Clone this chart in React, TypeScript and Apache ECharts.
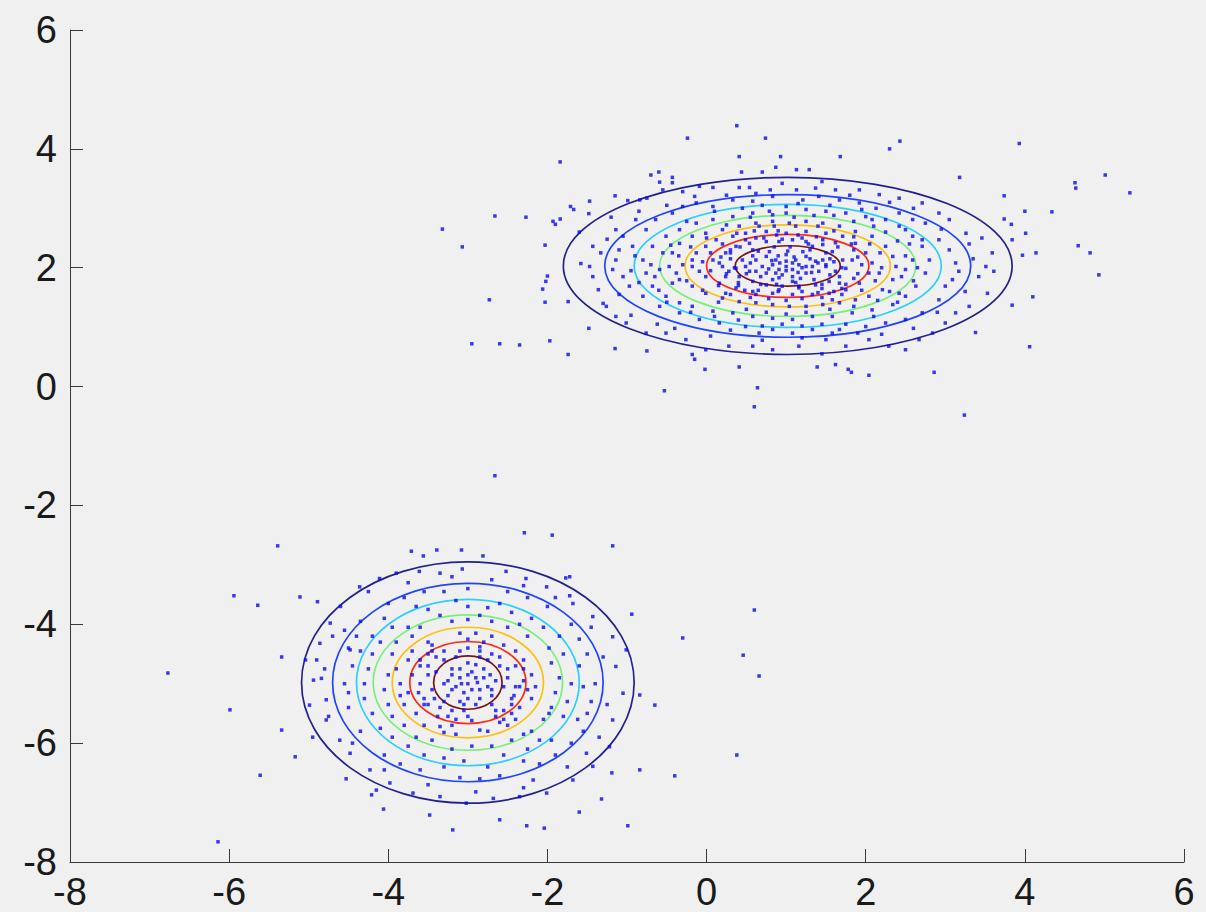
import React, { useEffect, useRef } from "react";
import * as echarts from "echarts";

// Axis ticks
const xTicks = [-8, -6, -4, -2, 0, 2, 4, 6];
const yTicks = [-8, -6, -4, -2, 0, 2, 4, 6];

// Contour level colours (outermost to innermost, jet colormap)
const levelColors = ["#22228e", "#1f45ff", "#2ccfff", "#78f078", "#ffc010", "#ff2c14", "#7a1414"];

// Upper cluster: centre and contour semi-axes per level
const upperCenter = [1.02, 2.03];
const upperRx = [2.82, 2.3, 1.93, 1.61, 1.29, 1.02, 0.66];
const upperRy = [1.49, 1.2, 1.035, 0.85, 0.69, 0.53, 0.34];

// Lower cluster: centre and contour semi-axes per level
const lowerCenter = [-3.0, -4.98];
const lowerRx = [2.09, 1.7, 1.4, 1.19, 0.95, 0.73, 0.43];
const lowerRy = [2.03, 1.67, 1.4, 1.14, 0.93, 0.69, 0.45];

// Sample points of the upper cluster
const upperPoints: number[][] = [
  [0.38, 4.39], [-0.24, 4.18], [0.74, 4.18], [2.43, 4.13], [2.3, 4.0], [3.93, 4.09], [0.41, 3.87],
  [0.93, 3.87], [1.68, 3.87], [-1.84, 3.78], [0.87, 3.69], [0.44, 3.61], [0.7, 3.61], [1.13, 3.65],
  [1.29, 3.65], [3.18, 3.52], [-0.7, 3.56], [-0.6, 3.61], [-0.43, 3.52], [-0.59, 3.44], [-0.43, 3.43],
  [-1.15, 3.21], [-1.47, 3.12], [-1.71, 3.03], [-1.67, 2.98], [-1.48, 2.91], [-1.93, 2.78], [-1.9, 2.73],
  [-1.84, 2.82], [-2.03, 2.38], [-2.0, 1.86], [-2.02, 1.77], [-2.06, 1.64], [-2.03, 1.42], [-1.74, 1.43],
  [-1.48, 0.98], [-1.97, 0.77], [-1.74, 0.54], [-1.15, 0.64], [-0.75, 0.6], [-0.18, 0.54], [-0.15, 0.46],
  [-0.02, 0.29], [0.41, 0.33], [0.64, -0.02], [-0.53, -0.07], [1.39, 0.33], [1.62, 0.37], [1.78, 0.29],
  [1.82, 0.24], [2.04, 0.19], [2.86, 0.24], [4.06, 0.67], [3.38, 0.91], [3.84, 1.37], [4.1, 1.51],
  [3.61, 1.94], [3.97, 2.21], [4.14, 2.25], [3.84, 2.47], [4.01, 2.58], [3.74, 2.82], [3.83, 2.73],
  [4.0, 2.95], [3.74, 3.21], [-3.32, 2.65], [-3.07, 2.35], [-2.73, 1.46], [-2.95, 0.72], [-2.6, 0.72],
  [-2.35, 0.7], [-2.66, 2.87], [-2.27, 2.85], [4.63, 3.43], [4.64, 3.34], [5.01, 3.56], [5.32, 3.26],
  [4.34, 2.94], [4.67, 2.37], [4.82, 2.25], [4.93, 1.88], [3.24, -0.48], [0.6, -0.34],
  // between the two outer contours
  [-1.43, 2.36], [-1.33, 2.25], [-1.58, 2.07], [-1.36, 1.63], [-1.43, 1.85], [-1.14, 2.64], [-0.89, 2.81],
  [-0.84, 3.14], [-0.99, 3.13], [-0.75, 3.17], [-0.55, 3.31], [-0.3, 3.28], [-0.09, 3.37], [0.08, 3.35],
  [0.41, 3.35], [0.54, 3.35], [0.8, 3.31], [1.13, 3.31], [1.37, 3.34], [1.62, 3.31], [1.92, 3.31],
  [2.17, 3.23], [2.42, 3.17], [2.71, 3.09], [2.92, 2.92], [3.05, 2.81], [3.26, 2.58], [3.46, 2.5],
  [3.59, 2.25], [3.51, 2.02], [3.42, 1.85], [3.53, 1.57], [3.3, 1.35], [3.13, 1.24], [3.0, 1.07],
  [2.84, 0.9], [2.67, 0.79], [2.5, 0.62], [2.29, 0.68], [2.04, 0.79], [1.75, 0.68], [1.5, 0.79],
  [1.16, 0.68], [0.83, 0.62], [0.58, 0.68], [0.28, 0.68], [-0.01, 0.62], [-0.26, 0.79], [-0.51, 0.9],
  [-0.76, 0.9], [-1.01, 1.07], [-1.14, 1.18], [-1.26, 1.35], [-1.1, 1.55], [-1.18, 1.97], [-1.47, 2.02],
  [-1.05, 2.53], [-0.93, 2.36], [-0.76, 2.64], [-0.64, 2.81], [-0.43, 2.92], [-0.3, 3.03], [-0.13, 3.09],
  [0.08, 3.03], [0.33, 3.14], [0.58, 3.12], [0.83, 3.2], [1.0, 3.03], [1.21, 3.14], [1.41, 3.2],
  [1.67, 3.14], [1.92, 3.09], [2.13, 3.0], [2.42, 2.92], [2.59, 2.81], [2.75, 2.75], [2.92, 2.47],
  [3.05, 2.3], [3.13, 2.08], [3.09, 1.8], [3.0, 1.69], [2.92, 1.46], [2.71, 1.24], [2.5, 1.13],
  [2.25, 1.07], [2.0, 1.01], [1.67, 0.96], [1.33, 0.96], [1.08, 0.9], [0.83, 0.96], [0.49, 1.01],
  [0.16, 1.07], [-0.09, 1.13], [-0.34, 1.24], [-0.59, 1.35], [-0.8, 1.52], [-0.97, 1.69], [-1.05, 1.85],
  [-1.14, 2.13], [-1.1, 2.3], [2.71, 2.47], [2.5, 2.64], [3.17, 1.94], [1.58, 0.9], [0.66, 0.9],
  [-1.25, 2.48], [-1.6, 2.6], [-1.3, 1.4], [-0.95, 1.2], [-0.62, 1.05], [-0.4, 0.98], [0.05, 0.85],
  [0.3, 0.95], [0.7, 0.78], [1.2, 0.82], [1.45, 0.55], [1.9, 0.9], [2.2, 0.88], [2.6, 0.98],
  [2.9, 1.25], [3.25, 1.6], [3.35, 2.15], [3.3, 2.4], [2.95, 2.65], [2.6, 3.0], [2.3, 3.1],
  [1.8, 3.22], [1.45, 3.45], [0.95, 3.42], [0.62, 3.25], [0.25, 3.22], [-0.15, 3.2], [-0.5, 3.05],
  [-0.85, 2.95], [-1.2, 2.85],
  // middle rings
  [-0.8, 2.13], [-0.76, 1.91], [-0.68, 1.69], [-0.51, 1.52], [-0.34, 1.41], [-0.18, 1.35], [0.08, 1.27],
  [0.33, 1.24], [0.58, 1.18], [0.83, 1.15], [1.08, 1.13], [1.33, 1.18], [1.58, 1.18], [1.83, 1.24],
  [2.08, 1.29], [2.34, 1.38], [2.5, 1.52], [2.63, 1.69], [2.75, 1.91], [2.8, 2.13], [2.71, 2.36],
  [2.59, 2.53], [2.42, 2.7], [2.25, 2.81], [2.0, 2.86], [1.75, 2.92], [1.5, 2.95], [1.25, 2.98],
  [1.0, 2.92], [0.79, 2.95], [0.58, 2.92], [0.33, 2.86], [0.08, 2.81], [-0.13, 2.75], [-0.34, 2.64],
  [-0.51, 2.53], [-0.68, 2.36], [-0.59, 1.97], [-0.43, 1.74], [2.42, 1.57], [2.59, 2.13], [0.83, 2.89],
  [2.08, 2.81], [-0.47, 2.02], [-0.43, 2.25], [-0.34, 2.41], [-0.18, 2.53], [-0.01, 2.58], [0.2, 2.64],
  [0.41, 2.7], [0.62, 2.75], [0.83, 2.78], [1.04, 2.75], [1.25, 2.78], [1.46, 2.75], [1.67, 2.7],
  [1.87, 2.61], [2.08, 2.53], [2.25, 2.36], [2.34, 2.19], [2.38, 2.02], [2.34, 1.8], [2.21, 1.63],
  [2.04, 1.52], [1.87, 1.46], [1.67, 1.41], [1.46, 1.38], [1.25, 1.35], [1.04, 1.35], [0.83, 1.38],
  [0.62, 1.41], [0.41, 1.43], [0.2, 1.49], [-0.01, 1.57], [-0.18, 1.69], [-0.34, 1.8], [-0.38, 1.91],
  [2.5, 1.97], [-0.18, 2.13], [2.17, 1.91], [0.24, 1.57], [1.58, 1.46], [0.66, 2.7],
  [-0.9, 2.2], [-0.95, 1.95], [-0.85, 1.75], [-0.6, 1.62], [-0.45, 2.38], [-0.25, 2.78], [0.1, 2.95],
  [0.45, 3.0], [0.7, 3.05], [1.15, 3.08], [1.55, 3.05], [1.95, 2.98], [2.25, 2.6], [2.55, 2.4],
  [2.65, 2.0], [2.6, 1.78], [2.4, 1.42], [2.1, 1.18], [1.75, 1.05], [1.45, 1.05], [1.2, 1.02],
  [0.95, 1.05], [0.7, 1.02], [0.4, 1.12], [0.1, 1.18], [-0.2, 1.25], [-0.5, 1.42], [-0.65, 1.85],
  [-0.7, 2.05], [-0.55, 2.25], [-0.3, 2.05], [-0.25, 1.78], [-0.05, 1.62], [0.15, 1.42], [0.5, 1.3],
  [0.75, 1.25], [1.0, 1.22], [1.25, 1.25], [1.55, 1.3], [1.85, 1.35], [2.15, 1.45], [2.3, 1.6],
  [2.45, 1.85], [2.5, 2.2], [2.4, 2.45], [2.1, 2.7], [1.85, 2.78], [1.6, 2.88], [1.35, 2.88],
  [1.1, 2.85], [0.9, 2.62], [0.55, 2.85], [0.25, 2.72], [0.0, 2.5], [-0.2, 2.35], [-0.35, 2.2],
  // inner rings
  [-0.18, 2.02], [-0.13, 2.25], [-0.01, 2.36], [0.12, 2.47], [0.33, 2.53], [0.49, 2.58], [0.75, 2.61],
  [1.0, 2.58], [1.25, 2.61], [1.5, 2.58], [1.71, 2.53], [1.87, 2.41], [2.0, 2.25], [2.08, 2.08],
  [2.04, 1.91], [1.92, 1.74], [1.75, 1.63], [1.54, 1.57], [1.33, 1.55], [1.08, 1.55], [0.83, 1.57],
  [0.58, 1.6], [0.37, 1.66], [0.16, 1.74], [-0.01, 1.85], [-0.09, 1.94], [0.08, 2.13], [1.83, 2.13],
  [0.24, 1.85], [1.67, 1.74], [0.49, 2.47], [1.46, 2.47], [0.91, 1.63], [1.16, 1.66],
  [0.16, 2.08], [0.24, 2.25], [0.37, 2.36], [0.54, 2.41], [0.75, 2.44], [0.91, 2.44], [1.08, 2.47],
  [1.25, 2.44], [1.46, 2.39], [1.58, 2.27], [1.71, 2.13], [1.75, 1.99], [1.67, 1.85], [1.54, 1.77],
  [1.37, 1.71], [1.16, 1.69], [0.95, 1.69], [0.75, 1.71], [0.58, 1.77], [0.41, 1.85], [0.28, 1.94],
  [0.2, 2.02], [0.45, 2.13], [1.5, 2.02], [0.58, 2.3], [1.33, 2.36], [0.83, 1.8], [1.08, 1.77],
  [0.37, 1.99], [1.62, 1.94],
  [0.05, 1.95], [0.15, 1.7], [0.3, 1.55], [0.55, 1.5], [0.78, 1.48], [1.0, 1.45], [1.2, 1.48],
  [1.45, 1.5], [1.7, 1.55], [1.95, 1.62], [2.12, 1.78], [2.2, 2.0], [2.18, 2.25], [2.05, 2.4],
  [1.85, 2.52], [1.6, 2.62], [1.4, 2.7], [1.12, 2.7], [0.85, 2.7], [0.6, 2.62], [0.38, 2.58],
  [0.2, 2.4], [0.05, 2.25], [-0.05, 2.1], [0.3, 2.15], [0.4, 1.75], [0.65, 1.62], [0.9, 1.6],
  [1.2, 1.6], [1.45, 1.65], [1.75, 1.72], [1.9, 1.9], [1.95, 2.05], [1.85, 2.3], [1.62, 2.42],
  [1.38, 2.52], [1.15, 2.55], [0.88, 2.55], [0.62, 2.5], [0.42, 2.35], [0.3, 2.25],
  [0.3, 2.3], [0.4, 1.7], [0.62, 1.55], [1.4, 1.58], [1.7, 1.65], [1.82, 2.4], [1.2, 2.5],
  [0.72, 2.5], [0.25, 1.9], [1.9, 2.18], [0.58, 2.2], [1.45, 1.72], [0.48, 1.62], [1.65, 2.35],
  [0.18, 2.18], [1.85, 1.82], [0.68, 1.72], [1.28, 2.4], [0.95, 2.48], [1.6, 1.6],
  // core
  [0.49, 2.02], [0.62, 2.13], [0.75, 2.19], [0.87, 2.13], [1.0, 2.22], [1.12, 2.13], [1.25, 2.19],
  [1.37, 2.11], [1.5, 2.05], [1.41, 1.94], [1.25, 1.91], [1.08, 1.97], [0.91, 1.97], [0.75, 1.91],
  [0.62, 1.94], [0.83, 2.05], [1.0, 2.02], [1.16, 2.05], [1.33, 2.02], [0.91, 1.83], [1.08, 1.85],
  [0.79, 2.27], [1.21, 2.27], [0.7, 2.02], [1.46, 2.13], [0.54, 1.94], [1.0, 2.11], [0.87, 1.91],
  [1.08, 2.08], [1.25, 2.02],
  [0.55, 2.08], [0.68, 1.85], [0.88, 1.72], [1.12, 1.75], [1.35, 1.8], [1.55, 1.88], [1.6, 2.1],
  [1.5, 2.25], [1.3, 2.3], [1.05, 2.35], [0.85, 2.35], [0.65, 2.28], [0.92, 2.08], [1.15, 1.92],
  [1.3, 2.15], [0.78, 1.98], [1.02, 2.28], [1.2, 2.0], [0.95, 1.88], [1.4, 2.08], [0.35, 2.0],
  [1.7, 2.0], [0.5, 1.9], [1.55, 2.15], [0.9, 2.2], [1.1, 2.18], [0.82, 2.12], [1.18, 1.82],
  [1.0, 1.95], [1.32, 1.92],
];

// Sample points of the lower cluster
const lowerPoints: number[][] = [
  [-6.14, -7.66], [-6.77, -4.82], [-5.94, -3.52], [-5.99, -5.44], [-5.61, -6.54], [-5.39, -2.68],
  [-5.64, -3.68], [-2.66, -1.5], [-2.29, -2.46], [-1.94, -2.5], [-1.18, -2.68], [-0.3, -4.23],
  [0.6, -3.76], [0.46, -4.52], [0.66, -4.87], [-0.4, -6.55], [-0.99, -7.39], [-1.19, -6.5],
  [-2.04, -7.43], [-2.26, -7.39], [-2.6, -7.29], [-3.48, -7.21], [-3.19, -7.46], [0.38, -6.2],
  [-5.04, -4.6], [-5.34, -4.55], [-3.71, -2.77], [-3.56, -2.85], [-3.39, -2.75], [-3.08, -2.75],
  [-5.11, -3.54], [-4.89, -3.62], [-1.77, -3.22], [-1.72, -3.52], [-0.94, -3.83], [-0.84, -5.19],
  [-0.65, -5.36], [-0.84, -6.45], [-5.34, -5.78], [-5.17, -6.23], [-4.95, -5.9], [-4.53, -6.6],
  [-4.21, -6.87], [-4.06, -7.11], [-1.32, -6.94], [-1.6, -7.16], [-2.81, -2.85],
  // between the two outer contours
  [-4.99, -5.36], [-4.94, -4.94], [-4.84, -4.91], [-4.78, -5.61], [-4.55, -4.1], [-4.48, -4.43],
  [-4.86, -4.32], [-4.36, -3.37], [-4.11, -3.23], [-3.9, -3.14], [-3.61, -3.11], [-3.35, -3.14],
  [-3.07, -3.07], [-2.52, -3.11], [-2.27, -3.23], [-2.01, -3.37], [-1.72, -3.2], [-1.68, -3.65],
  [-1.43, -3.87], [-1.18, -4.21], [-1.14, -4.71], [-1.05, -5.16], [-1.18, -5.61], [-1.22, -6.06],
  [-1.43, -6.39], [-1.68, -6.62], [-2.01, -6.84], [-2.35, -6.9], [-2.68, -6.93], [-3.02, -7.01],
  [-3.35, -6.9], [-3.69, -6.84], [-3.98, -6.67], [-4.23, -6.45], [-4.48, -6.17], [-4.61, -5.95],
  [-4.78, -5.27], [-4.9, -4.6], [-4.73, -3.98], [-4.15, -6.79], [-2.18, -6.62], [-1.51, -6.17],
  [-1.01, -4.43],
  [-4.7, -4.2], [-4.6, -3.7], [-4.25, -3.45], [-3.75, -3.3], [-3.2, -3.2], [-2.7, -3.25],
  [-2.3, -3.35], [-1.9, -3.55], [-1.45, -4.05], [-1.3, -4.55], [-1.25, -5.35], [-1.35, -5.9],
  [-1.75, -6.4], [-2.3, -6.75], [-2.9, -6.82], [-3.5, -6.7], [-4.05, -6.45], [-4.45, -6.0],
  [-4.75, -5.55], [-4.8, -4.75],
  [-4.55, -5.0], [-4.5, -4.4], [-4.35, -3.95], [-4.0, -3.65], [-3.55, -3.45], [-3.0, -3.4],
  [-2.5, -3.45], [-2.0, -3.7], [-1.7, -4.0], [-1.5, -4.5], [-1.4, -5.0], [-1.5, -5.5], [-1.7, -6.0],
  [-2.1, -6.35], [-2.6, -6.55], [-3.1, -6.58], [-3.6, -6.45], [-4.05, -6.2], [-4.35, -5.8],
  [-4.5, -5.4], [-4.45, -4.7], [-4.2, -4.2], [-3.3, -3.45], [-2.25, -3.55], [-1.6, -4.25],
  [-1.45, -5.3], [-1.9, -6.2], [-2.85, -6.6], [-3.85, -6.35], [-4.5, -5.15], [-3.8, -3.55],
  [-1.55, -5.8],
  // middle rings
  [-4.3, -5.0], [-4.2, -4.5], [-3.95, -4.05], [-3.5, -3.75], [-3.0, -3.7], [-2.45, -3.8],
  [-2.05, -4.05], [-1.8, -4.5], [-1.7, -5.0], [-1.8, -5.55], [-2.1, -5.95], [-2.55, -6.2],
  [-3.05, -6.3], [-3.55, -6.2], [-3.95, -5.9], [-4.2, -5.5], [-4.25, -4.75], [-2.75, -3.72],
  [-1.75, -5.3], [-3.3, -6.25], [-4.1, -4.3], [-2.25, -6.1],
  [-4.35, -4.45], [-4.3, -5.25], [-4.1, -5.75], [-3.75, -6.05], [-3.3, -6.4], [-2.75, -6.4],
  [-2.3, -6.3], [-1.95, -5.95], [-1.62, -5.6], [-1.55, -5.05], [-1.6, -4.7], [-1.85, -4.2],
  [-2.2, -3.9], [-2.6, -3.65], [-3.15, -3.6], [-3.65, -3.7], [-4.05, -3.9], [-4.4, -4.2],
  [-4.05, -5.1], [-3.95, -4.5], [-3.7, -4.2], [-3.2, -3.95], [-2.7, -3.95], [-2.25, -4.2],
  [-1.95, -4.65], [-1.9, -5.15], [-2.05, -5.6], [-2.45, -5.95], [-2.95, -6.05], [-3.45, -5.95],
  [-3.8, -5.7], [-4.0, -5.35], [-3.0, -3.92], [-1.95, -5.4], [-3.9, -4.75], [-2.2, -5.8],
  [-3.6, -4.05], [-2.5, -4.05],
  [-4.0, -4.85], [-3.95, -5.55], [-3.65, -5.9], [-3.2, -6.1], [-2.7, -6.05], [-2.3, -5.85],
  [-1.98, -5.5], [-1.85, -4.9], [-1.98, -4.4], [-2.35, -4.0], [-2.85, -3.85], [-3.35, -3.85],
  [-3.75, -4.05], [-3.9, -4.3],
  // inner rings
  [-3.85, -5.0], [-3.75, -4.6], [-3.5, -4.3], [-3.1, -4.15], [-2.7, -4.2], [-2.4, -4.45],
  [-2.2, -4.85], [-2.2, -5.25], [-2.4, -5.6], [-2.75, -5.8], [-3.15, -5.85], [-3.55, -5.7],
  [-3.8, -5.35], [-2.9, -4.15], [-2.15, -5.05], [-3.3, -5.82], [-3.7, -4.45], [-2.5, -5.7],
  [-3.85, -5.2], [-2.3, -4.6],
  [-3.7, -4.85], [-3.65, -5.5], [-3.35, -5.72], [-2.85, -5.78], [-2.45, -5.5], [-2.25, -5.1],
  [-2.3, -4.75], [-2.55, -4.35], [-3.0, -4.25], [-3.45, -4.35], [-3.6, -4.6],
  [-3.6, -5.0], [-3.5, -4.7], [-3.3, -4.45], [-3.0, -4.4], [-2.7, -4.5], [-2.5, -4.75],
  [-2.4, -5.05], [-2.45, -5.35], [-2.65, -5.55], [-2.95, -5.62], [-3.25, -5.55], [-3.5, -5.35],
  [-3.62, -5.15], [-2.85, -4.38], [-2.42, -5.2], [-3.15, -5.6], [-3.4, -4.55], [-2.55, -5.45],
  [-3.55, -5.25], [-2.3, -4.95], [-2.35, -5.4], [-3.5, -4.5], [-2.8, -4.3], [-3.2, -5.7],
  [-2.6, -5.65], [-3.75, -5.15],
  [-3.5, -4.85], [-3.42, -5.25], [-3.3, -4.6], [-2.6, -4.55], [-2.5, -4.9], [-2.45, -5.25],
  [-2.65, -5.45], [-3.2, -5.45], [-3.45, -4.45], [-2.85, -4.45], [-3.55, -5.35], [-2.4, -4.7],
  [-2.55, -5.6], [-3.1, -4.45], [-3.38, -5.55], [-2.75, -4.6], [-3.6, -4.7], [-2.35, -5.05],
  [-3.0, -5.55], [-3.3, -5.3],
  // core
  [-3.3, -5.0], [-3.2, -4.75], [-3.0, -4.65], [-2.8, -4.75], [-2.65, -4.95], [-2.7, -5.2],
  [-2.9, -5.35], [-3.1, -5.3], [-3.25, -5.2], [-3.0, -5.0], [-3.1, -4.9], [-2.9, -4.9],
  [-2.85, -5.1], [-3.05, -5.15], [-3.15, -5.05], [-2.95, -4.8], [-2.75, -5.05], [-3.2, -4.85],
  [-3.0, -5.25], [-2.8, -4.9],
  [-3.45, -5.1], [-3.35, -5.4], [-3.05, -5.45], [-2.7, -5.35], [-2.55, -5.05], [-2.6, -4.7],
  [-2.85, -4.55], [-3.15, -4.55], [-3.4, -4.8], [-3.25, -4.95], [-3.1, -4.75], [-2.9, -4.68],
  [-2.72, -4.85], [-2.7, -5.1], [-2.85, -5.25], [-3.05, -5.35], [-3.2, -5.1], [-3.0, -4.85],
  [-2.95, -5.1], [-3.08, -5.0], [-2.88, -4.98],
];

// Contour rows: [cx, cy, rx, ry, level]
const contourRows: number[][] = [];
upperRx.forEach((rx, i) => contourRows.push([upperCenter[0], upperCenter[1], rx, upperRy[i], i]));
lowerRx.forEach((rx, i) => contourRows.push([lowerCenter[0], lowerCenter[1], rx, lowerRy[i], i]));

export default function App() {
  const ref = useRef<HTMLDivElement>(null);

  useEffect(() => {
    if (!ref.current) return;
    const chart = echarts.init(ref.current, undefined, { renderer: "svg" });
    const axisCommon = {
      type: "value" as const,
      min: -8,
      max: 6,
      interval: 2,
      splitLine: { show: false },
      axisLine: { show: true, onZero: false, lineStyle: { color: "#3a3a3a", width: 1 } },
      axisTick: { show: true, inside: true, length: 13, lineStyle: { color: "#3a3a3a", width: 1 } },
      axisLabel: {
        color: "#1a1a1a",
        fontSize: 38,
        lineHeight: 38,
        fontFamily: "Liberation Sans, Arial, sans-serif",
      },
    };
    chart.setOption({
      animation: false,
      backgroundColor: "#f0f0f0",
      grid: { left: 70, right: 22, top: 30, bottom: 50, containLabel: false },
      xAxis: {
        ...axisCommon,
        axisLabel: { ...axisCommon.axisLabel, margin: 11, customValues: xTicks },
      },
      yAxis: {
        ...axisCommon,
        axisLabel: { ...axisCommon.axisLabel, margin: 13, customValues: yTicks },
      },
      series: [
        {
          type: "custom",
          data: contourRows,
          z: 2,
          renderItem: (_params: any, api: any) => {
            const c = api.coord([api.value(0), api.value(1)]);
            const s = api.size([api.value(2), api.value(3)]);
            return {
              type: "ellipse",
              shape: { cx: c[0], cy: c[1], rx: s[0], ry: s[1] },
              style: { fill: "none", stroke: levelColors[api.value(4)], lineWidth: 1.7 },
            };
          },
        },
        {
          type: "scatter",
          data: [...upperPoints, ...lowerPoints],
          symbol: "rect",
          symbolSize: 3.5,
          z: 3,
          itemStyle: { color: "#0a0aee" },
        },
      ],
    });
    return () => chart.dispose();
  }, []);

  return (
    <div
      ref={ref}
      style={{ position: "fixed", left: 0, top: 0, width: 1206, height: 912, background: "#f0f0f0" }}
    />
  );
}
